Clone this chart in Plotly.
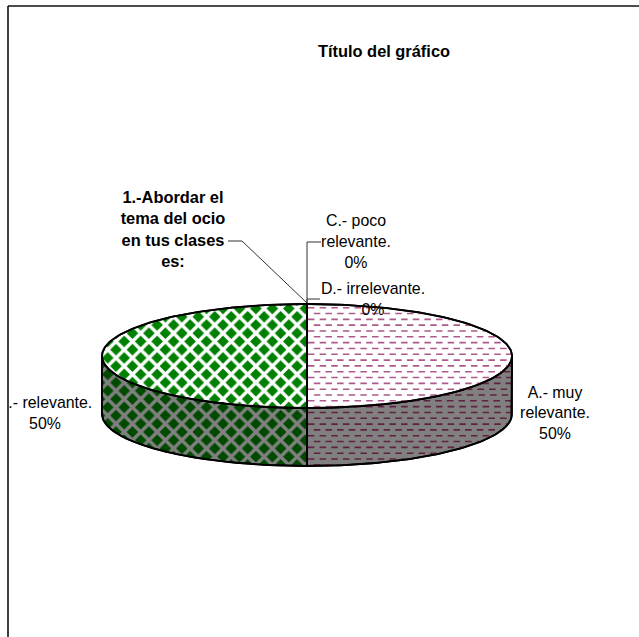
import numpy as np
import plotly.graph_objects as go

# ---- data ----
categories = ["A.- muy<br>relevante.", "B.- relevante.", "C.- poco<br>relevante.", "D.- irrelevante."]
values = [50, 50, 0, 0]
chart_title = "Título del gráfico"
series_name = "1.-Abordar el<br>tema del ocio<br>en tus clases<br>es:"

# ---- layout (px) ----
W, H = 639, 637
ML, MT = 9, 4
CX, CY, A, B, DEPTH = 307, 356, 205, 52, 58
S = 11.64
FONT = "Liberation Sans"
FS = 15.9
FSB = 16.4

fig = go.Figure()
total = sum(values)
cum = np.cumsum([0] + values) / total * 2 * np.pi


def arc(t0, t1, dy=0.0):
    t = np.linspace(t0, t1, max(2, int((t1 - t0) * 60)))
    return CX + A * np.sin(t), CY + dy - B * np.cos(t)


patterns = [
    None,
    dict(top=dict(shape="x", bgcolor="#008000", fgcolor="#ffffff", fgopacity=1, size=S, solidity=0.5),
         side=dict(shape="x", bgcolor="#004a00", fgcolor="#808080", fgopacity=1, size=S, solidity=0.5)),
]
plain = dict(top="#ffffff", side="#808080")
outline = dict(color="#000000", width=1.8)

# side walls
for i, v in enumerate(values):
    t0, t1 = max(cum[i], np.pi / 2), min(cum[i + 1], 3 * np.pi / 2)
    if v == 0 or t1 <= t0:
        continue
    x0, y0 = arc(t0, t1)
    x1, y1 = arc(t0, t1, DEPTH)
    p = patterns[i] if i < len(patterns) else None
    kw = dict(fillpattern=p["side"]) if p else dict()
    fig.add_trace(go.Scatter(x=np.r_[x0, x1[::-1], x0[0]], y=np.r_[y0, y1[::-1], y0[0]],
                             mode="lines", fill="toself", fillcolor=plain["side"],
                             line=outline, hoverinfo="skip", showlegend=False, **kw))

# top faces
for i, v in enumerate(values):
    if v == 0:
        continue
    x0, y0 = arc(cum[i], cum[i + 1])
    p = patterns[i] if i < len(patterns) else None
    kw = dict(fillpattern=p["top"]) if p else dict()
    fig.add_trace(go.Scatter(x=np.r_[CX, x0, CX], y=np.r_[CY, y0, CY],
                             mode="lines", fill="toself", fillcolor=plain["top"],
                             line=outline, hoverinfo="skip", showlegend=False, **kw))

# dashed-horizontal hatch of the first slice, clipped to its face and its wall
tx, ty, sx, sy = [], [], [], []
Y0 = 307.7
for k in range(0, 40):
    y = Y0 + k * S / 2
    off = S / 2 if k % 2 else 0.0
    # top face
    r = (y - CY) / B
    if abs(r) < 1:
        xe = CX + A * np.sqrt(1 - r * r)
        tx += [CX + off + 1, xe, None]
        ty += [y, y, None]
    # wall
    umin = np.sqrt(1 - r * r) if 0 < r < 1 else (0.0 if r >= 1 else None)
    if umin is None:
        continue
    r2 = (y - CY - DEPTH) / B
    if r2 >= 1:
        continue
    umax = np.sqrt(1 - r2 * r2) if r2 > 0 else 1.0
    if umax > umin:
        sx += [CX + A * umin + (off if umin == 0 else 0) + 1, CX + A * umax - 1, None]
        sy += [y, y, None]

fig.add_trace(go.Scatter(x=tx, y=ty, mode="lines", line=dict(color="#ad5a8a", width=1.6, dash="6.5px,5.14px"),
                         hoverinfo="skip", showlegend=False))
fig.add_trace(go.Scatter(x=sx, y=sy, mode="lines", line=dict(color="#602040", width=1.6, dash="6.5px,5.14px"),
                         hoverinfo="skip", showlegend=False))

# re-stroke the pie outline above the hatch
t = np.linspace(0, 2 * np.pi, 300)
fig.add_trace(go.Scatter(x=CX + A * np.sin(t), y=CY - B * np.cos(t), mode="lines", line=outline,
                         hoverinfo="skip", showlegend=False))
x1, y1 = arc(np.pi / 2, 3 * np.pi / 2, DEPTH)
fig.add_trace(go.Scatter(x=np.r_[CX + A, x1, CX - A], y=np.r_[CY, y1, CY], mode="lines", line=outline,
                         hoverinfo="skip", showlegend=False))
fig.add_trace(go.Scatter(x=[CX, CX, CX], y=[CY - B, CY + B, CY + B + DEPTH], mode="lines", line=outline,
                         hoverinfo="skip", showlegend=False))

# leader lines
leader = dict(color="#333333", width=1)
for lx, ly in [([228, 242, CX], [241, 241, 303]),
               ([321, CX, CX], [242, 242, 303]),
               ([320, CX, CX], [299, 299, 303])]:
    fig.add_trace(go.Scatter(x=lx, y=ly, mode="lines", line=leader, hoverinfo="skip", showlegend=False))

# data labels
pct = [f"{v / total:.0%}" for v in values]
label_x = [555, 45, 356, 373]
label_y = [414.5, 414.5, 243, 300.5]
fig.add_trace(go.Scatter(x=label_x, y=label_y, mode="text",
                         text=[f"{c}<br>{p}" for c, p in zip(categories, pct)],
                         textposition="middle center",
                         textfont=dict(family=FONT, size=FS, color="#000000"),
                         cliponaxis=True, hoverinfo="skip", showlegend=False))

fig.add_trace(go.Scatter(x=[173], y=[231], mode="text", text=[f"<b>{series_name}</b>"],
                         textposition="middle center",
                         textfont=dict(family=FONT, size=FSB, color="#000000"),
                         hoverinfo="skip", showlegend=False))
fig.add_trace(go.Scatter(x=[384], y=[53], mode="text", text=[f"<b>{chart_title}</b>"],
                         textposition="middle center",
                         textfont=dict(family=FONT, size=FSB, color="#000000"),
                         hoverinfo="skip", showlegend=False))

frame_x = -1 / (W - ML)
frame_y = 1 - (6 - MT) / (H - MT)
fig.update_layout(
    width=W, height=H,
    margin=dict(l=ML, r=0, t=MT, b=0, pad=0),
    paper_bgcolor="#ffffff", plot_bgcolor="#ffffff",
    showlegend=False,
    xaxis=dict(range=[ML, W], visible=False, fixedrange=True),
    yaxis=dict(range=[H, MT], visible=False, fixedrange=True),
    shapes=[
        dict(type="line", xref="paper", yref="paper", x0=frame_x, x1=1, y0=frame_y, y1=frame_y,
             line=dict(color="#111111", width=1.6)),
        dict(type="line", xref="paper", yref="paper", x0=frame_x, x1=frame_x, y0=0, y1=frame_y,
             line=dict(color="#111111", width=1.6)),
    ],
)
fig.write_html("out.html", post_script="document.body.style.margin='0';", config=dict(displayModeBar=False))
